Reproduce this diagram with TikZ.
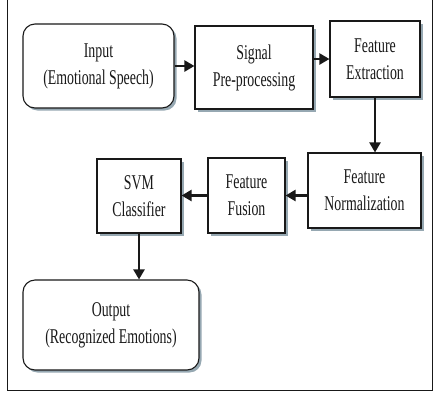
\documentclass[tikz,border=0pt]{standalone}
\usepackage{fontspec}
\setmainfont{Liberation Serif}[FakeStretch=0.66]
\usetikzlibrary{arrows.meta,shadows}
\definecolor{shad}{RGB}{150,168,178}
\definecolor{ink}{RGB}{25,25,25}
\begin{document}
\begin{tikzpicture}[x=1pt,y=-1pt,
  box/.style={draw=ink, line width=1.1pt, fill=white, align=center, inner sep=0pt,
    font=\fontsize{21}{27}\selectfont, text=ink,
    drop shadow={shadow xshift=2.5pt, shadow yshift=-2.5pt, fill=shad, opacity=1}},
  rbox/.style={box, rounded corners=12pt},
  arr/.style={draw=ink, line width=2.2pt, -{Triangle[length=10pt,width=11pt]}}]
\useasboundingbox (0,0) rectangle (438,400);
\draw[ink, line width=1pt] (7.5,0) -- (7.5,390) -- (432,390) -- (432,0);
\node[rbox, minimum width=151pt, minimum height=84pt] (in) at (98.5,66) {Input\\(Emotional Speech)};
\node[box, minimum width=118pt, minimum height=83pt] (sig) at (254,67.5) {Signal\\Pre-processing};
\node[box, minimum width=90pt, minimum height=76pt] (fe) at (375,59) {Feature\\Extraction};
\node[box, minimum width=113pt, minimum height=75pt] (fn) at (364.5,190.5) {Feature\\Normalization};
\node[box, minimum width=77pt, minimum height=75pt] (ff) at (246.5,195.5) {Feature\\Fusion};
\node[box, minimum width=84pt, minimum height=74pt] (svm) at (139,196) {SVM\\Classifier};
\node[rbox, minimum width=176pt, minimum height=90pt] (out) at (111,325) {Output\\(Recognized Emotions)};
\draw[arr] (in.east) -- (in.east -| sig.west);
\draw[arr] (sig.east |- fe.west) -- (fe.west);
\draw[arr] (fe.south) -- (fe.south |- fn.north);
\draw[arr] (fn.west |- ff.east) -- (ff.east);
\draw[arr] (ff.west) -- (ff.west -| svm.east);
\draw[arr] (svm.south) -- (svm.south |- out.north);
\end{tikzpicture}
\end{document}
